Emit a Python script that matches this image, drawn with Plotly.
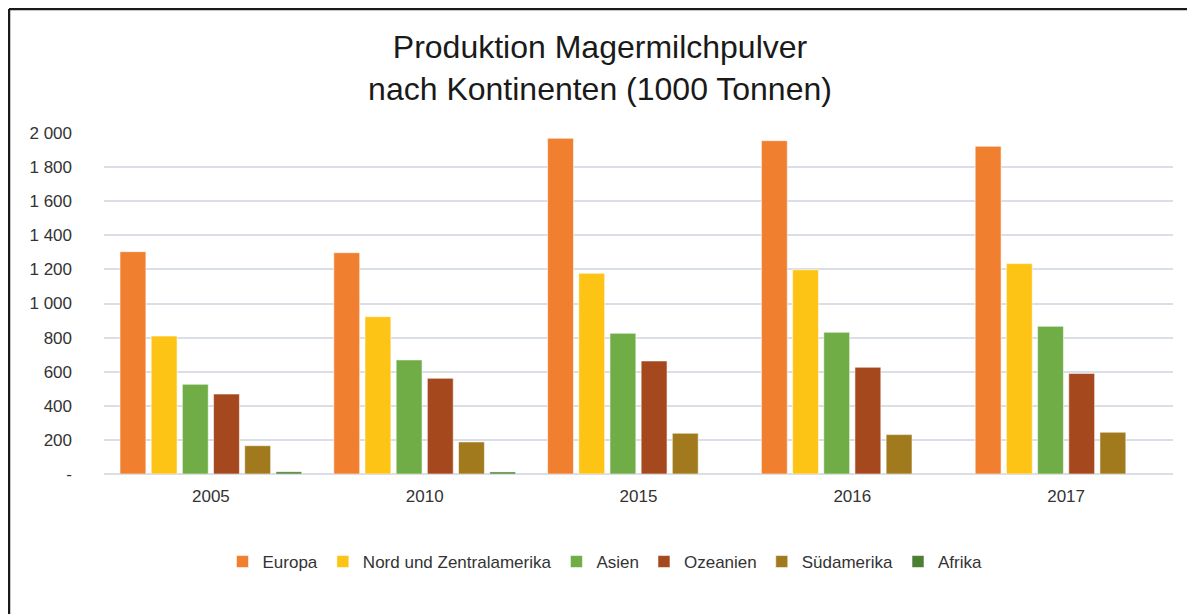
import plotly.graph_objects as go

years = ["2005", "2010", "2015", "2016", "2017"]
series_names = ["Europa", "Nord und Zentralamerika", "Asien", "Ozeanien", "Südamerika", "Afrika"]
europa = [1304, 1298, 1969, 1955, 1922]
nord_zentralamerika = [809, 923, 1177, 1198, 1234]
asien = [526, 669, 825, 831, 866]
ozeanien = [469, 561, 663, 626, 590]
suedamerika = [166, 188, 239, 231, 245]
afrika = [13, 12, None, None, None]
series_values = [europa, nord_zentralamerika, asien, ozeanien, suedamerika, afrika]
colors = ["#F07F30", "#FDC416", "#70AD47", "#A5481E", "#A07A1C", "#4A7F34"]

tick_vals = [0, 200, 400, 600, 800, 1000, 1200, 1400, 1600, 1800, 2000]
tick_text = ["-", "200", "400", "600", "800", "1 000", "1 200", "1 400", "1 600", "1 800", "2 000"]

# page has an 8px body margin; figure is sized/positioned to compensate
OFF = 8
W, H = 1195 - OFF, 614 - OFF
L, R, T, B = 104 - OFF, 22, 133 - OFF, 140

fig = go.Figure()
for name, vals, col in zip(series_names, series_values, colors):
    fig.add_trace(go.Bar(
        name=name, x=years, y=vals,
        marker=dict(color=col, line=dict(color="rgba(255,255,255,0.55)", width=1)),
    ))

font = "Liberation Sans, Arial, sans-serif"

pw = W - L - R
ph = H - T - B
def px_x(p):  # page pixel -> paper
    return (p - OFF - L) / pw
def px_y(p):
    return (H - B - (p - OFF)) / ph

fig.update_layout(
    width=W, height=H,
    margin=dict(l=L, r=R, t=T, b=B, autoexpand=False),
    paper_bgcolor="white", plot_bgcolor="white",
    barmode="group", bargap=0.125, bargroupgap=0.17,
    title=dict(
        text="Produktion Magermilchpulver<br>nach Kontinenten (1000 Tonnen)",
        font=dict(family=font, size=32, color="#1a1a1a"),
        x=(600 - OFF) / W, xanchor="center", xref="container",
        y=1 - 50 / H, yanchor="top", yref="container",
    ),
    font=dict(family=font, size=17, color="#333333"),
    xaxis=dict(
        showgrid=False, showline=False, ticks="",
        tickfont=dict(family=font, size=17, color="#333333"),
        ticklabelstandoff=10,
    ),
    yaxis=dict(
        range=[0, 2000], tickvals=tick_vals, ticktext=tick_text,
        showgrid=True, gridcolor="#DADEE6", gridwidth=1.5,
        zeroline=True, zerolinecolor="#DADEE6", zerolinewidth=1.5,
        showline=False, ticks="",
        tickfont=dict(family=font, size=17, color="#333333"),
        ticklabelstandoff=31,
    ),
    legend=dict(
        orientation="h", x=px_x(605), xanchor="center",
        y=px_y(562), yanchor="middle",
        font=dict(family=font, size=17, color="#333333"),
        traceorder="normal",
    ),
    shapes=[
        dict(type="line", xref="paper", yref="paper",
             x0=px_x(9), x1=px_x(1200), y0=px_y(9), y1=px_y(9),
             line=dict(color="#1a1a1a", width=2.5)),
        dict(type="line", xref="paper", yref="paper",
             x0=px_x(9), x1=px_x(9), y0=px_y(9), y1=px_y(620),
             line=dict(color="#1a1a1a", width=2.5)),
    ],
)

fig.write_html("out.html")
